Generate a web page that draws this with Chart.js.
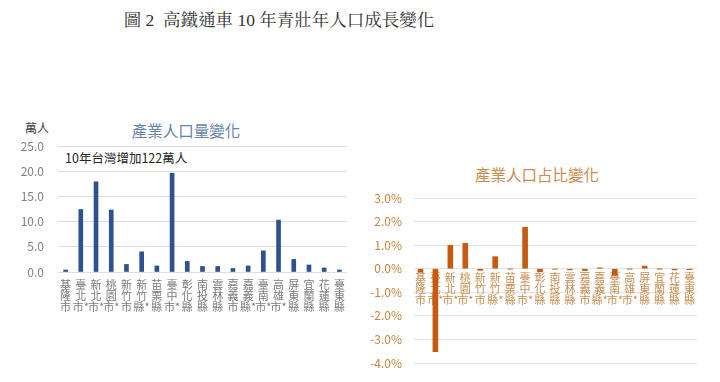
<!DOCTYPE html>
<html>
<head>
<meta charset="utf-8">
<script src="https://cdn.jsdelivr.net/npm/chart.js@4/dist/chart.umd.min.js"></script>
<style>
  html, body { margin: 0; padding: 0; background: #ffffff; }
  body { width: 720px; height: 382px; position: relative; overflow: hidden; font-family: "Noto Sans CJK TC", "Noto Sans", sans-serif; }
  .abs { position: absolute; white-space: nowrap; }
  #mainTitle { left: 0; width: 558px; top: 8px; text-align: center; font-family: "Liberation Serif", "Noto Serif CJK TC", "Noto Sans CJK TC", serif; font-size: 17.5px; color: #333333; line-height: 24px; }
  #leftTitle { left: 86px; width: 200px; top: 119px; text-align: center; font-size: 15.5px; color: #6585ab; line-height: 22px; }
  #rightTitle { left: 437px; width: 200px; top: 163px; text-align: center; font-size: 15.5px; color: #c98c52; line-height: 22px; }
  #unit { left: 25px; top: 119px; font-size: 12px; color: #404040; line-height: 18px; }
  #note { left: 65px; top: 149px; font-size: 12.5px; color: #262626; line-height: 18px; }
  #leftWrap { left: 0; top: 130px; width: 360px; height: 200px; }
  #rightWrap { left: 360px; top: 185px; width: 360px; height: 190px; }
</style>
</head>
<body>
<div id="mainTitle" class="abs">圖 2&nbsp;&nbsp;高鐵通車 10 年青壯年人口成長變化</div>
<div id="unit" class="abs">萬人</div>
<div id="leftTitle" class="abs">產業人口量變化</div>
<div id="note" class="abs">10年台灣增加122萬人</div>
<div id="rightTitle" class="abs">產業人口占比變化</div>
<div id="leftWrap" class="abs"><canvas id="leftChart" width="360" height="200"></canvas></div>
<div id="rightWrap" class="abs"><canvas id="rightChart" width="360" height="190"></canvas></div>
<script>
const categories = ['基隆市','臺北市*','新北市*','桃園市*','新竹市','新竹縣*','苗栗縣','臺中市*','彰化縣','南投縣','雲林縣','嘉義市','嘉義縣*','臺南市*','高雄市*','屏東縣','宜蘭縣','花蓮縣','臺東縣'];
// 產業人口量變化 (萬人)
const populationChange = [0.4, 12.4, 17.9, 12.3, 1.5, 4.0, 1.2, 19.6, 2.1, 1.1, 1.1, 0.7, 1.2, 4.2, 10.3, 2.5, 1.4, 0.8, 0.4];
// 產業人口占比變化 (%)
const shareChange = [-0.15, -3.52, 0.99, 1.08, -0.07, 0.51, -0.01, 1.76, -0.13, -0.01, -0.05, -0.08, 0.04, -0.28, -0.01, 0.11, -0.005, -0.05, -0.04];
const populationTicks = { min: 0, max: 25, step: 5 };
const shareTicks = { min: -4, max: 3, step: 1 };

// vertical (stacked) label lines; asterisk kept with previous character
function verticalLabel(s) {
  const out = [];
  for (const ch of s) {
    if (ch === '*' && out.length) out[out.length - 1] += '*';
    else out.push(ch);
  }
  return out;
}
const labelLines = categories.map(verticalLabel);
const cjk = '"Noto Sans CJK TC", "Noto Sans", sans-serif';
const fitY = (w) => (s) => { s.width = w; s.paddingTop = 0; s.paddingBottom = 0; };

new Chart(document.getElementById('leftChart'), {
  type: 'bar',
  data: {
    labels: labelLines,
    datasets: [{ data: populationChange, backgroundColor: '#2f528f', barThickness: 4 }]
  },
  options: {
    responsive: false,
    animation: false,
    layout: { padding: { top: 16, right: 13, left: 0, bottom: 0 } },
    plugins: { legend: { display: false }, tooltip: { enabled: false } },
    scales: {
      x: {
        grid: { display: false, drawTicks: false },
        border: { display: false },
        ticks: { autoSkip: false, maxRotation: 0, minRotation: 0, padding: 7, color: '#7a7a7a', font: { family: cjk, size: 11, lineHeight: 1.0 } },
        afterFit: (s) => { s.height = 58; }
      },
      y: {
        min: populationTicks.min, max: populationTicks.max,
        grid: { color: '#dedede', drawTicks: false },
        border: { display: false },
        ticks: { stepSize: populationTicks.step, padding: 14, color: '#808080', font: { family: cjk, size: 12 }, callback: (v) => Number(v).toFixed(1) },
        afterFit: fitY(58)
      }
    }
  }
});

new Chart(document.getElementById('rightChart'), {
  type: 'bar',
  data: {
    labels: labelLines,
    datasets: [{ data: shareChange, backgroundColor: '#c55a11', barThickness: 5 }]
  },
  options: {
    responsive: false,
    animation: false,
    layout: { padding: { top: 13, right: 23, left: 0, bottom: 12 } },
    plugins: { legend: { display: false }, tooltip: { enabled: false } },
    scales: {
      x: {
        position: { y: 0 },
        grid: { display: false, drawTicks: false },
        border: { display: false },
        ticks: { autoSkip: false, maxRotation: 0, minRotation: 0, padding: 4, color: '#c98b4e', font: { family: cjk, size: 11, lineHeight: 1.0 } }
      },
      y: {
        min: shareTicks.min, max: shareTicks.max,
        grid: { color: '#e3e3e3', drawTicks: false },
        border: { display: false },
        ticks: { stepSize: shareTicks.step, padding: 11, color: '#c8843f', font: { family: cjk, size: 12 }, callback: (v) => Number(v).toFixed(1) + '%' },
        afterFit: fitY(53)
      }
    }
  }
});
</script>
</body>
</html>
